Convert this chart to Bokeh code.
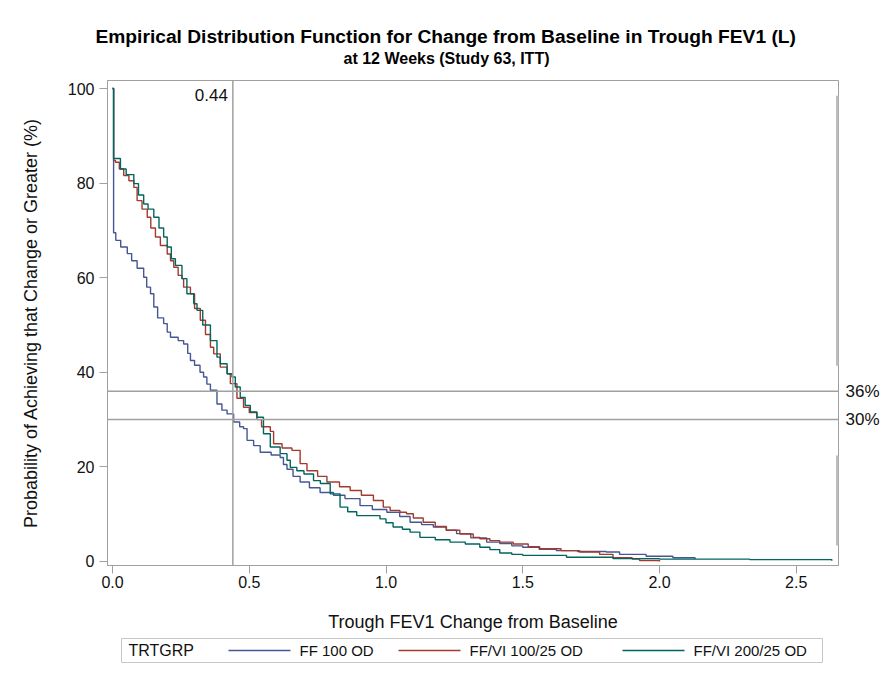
from bokeh.plotting import figure
from bokeh.models import Span, Label, Range1d, FixedTicker, LinearAxis, Title
from bokeh.layouts import column
from bokeh.core.properties import value
from bokeh.embed import file_html
from bokeh.resources import INLINE

title_main = "Empirical Distribution Function for Change from Baseline in Trough FEV1 (L)"
title_sub = "at 12 Weeks (Study 63, ITT)"
x_label = "Trough FEV1 Change from Baseline"
y_label = "Probability of Achieving that Change or Greater (%)"
legend_title = "TRTGRP"
groups = ["FF 100 OD", "FF/VI 100/25 OD", "FF/VI 200/25 OD"]
colors = ["#445694", "#A23A2E", "#01665E"]

x_ticks = [0.0, 0.5, 1.0, 1.5, 2.0, 2.5]
x_tick_labels = ["0.0", "0.5", "1.0", "1.5", "2.0", "2.5"]
y_ticks = [0, 20, 40, 60, 80, 100]

ref_x = 0.44
ref_x_label = "0.44"
ref_y = [36, 30]
ref_y_labels = ["36%", "30%"]

# FF 100 OD
ff100_x = [0.000, 0.004, 0.012, 0.030, 0.054, 0.070, 0.090, 0.114, 0.125, 0.139,
           0.151, 0.165, 0.187, 0.200, 0.212, 0.240, 0.260, 0.275, 0.285, 0.300,
           0.320, 0.333, 0.345, 0.358, 0.382, 0.400, 0.419, 0.443, 0.465, 0.479,
           0.492, 0.516, 0.540, 0.580, 0.613, 0.625, 0.638, 0.660, 0.686, 0.720,
           0.759, 0.808, 0.850, 0.905, 0.950, 1.003, 1.050, 1.088, 1.130, 1.173,
           1.220, 1.258, 1.310, 1.368, 1.416, 1.460, 1.500, 1.560, 1.623, 1.700,
           1.805, 1.854, 1.951, 2.049, 2.130]
ff100_y = [100.0, 69.5, 67.9, 66.5, 65.1, 63.6, 62.0, 60.1, 58.0, 56.6,
           53.8, 51.5, 50.3, 48.5, 47.4, 46.7, 46.0, 44.0, 42.5, 41.5,
           40.0, 39.0, 37.5, 36.2, 33.3, 32.0, 31.2, 29.5, 28.5, 28.1,
           25.6, 24.5, 23.1, 22.5, 22.0, 20.5, 19.5, 18.0, 16.8, 15.6,
           14.6, 14.0, 13.3, 11.8, 11.0, 10.4, 9.5, 8.3, 7.8, 7.3,
           6.6, 5.9, 5.0, 4.1, 3.8, 3.3, 3.0, 2.6, 2.3, 2.1,
           2.0, 1.5, 1.1, 0.8, 0.5]

# FF/VI 100/25 OD
ffvi100_x = [0.000, 0.004, 0.011, 0.025, 0.041, 0.060, 0.078, 0.090, 0.108, 0.127,
             0.140, 0.157, 0.175, 0.200, 0.212, 0.224, 0.240, 0.254, 0.260, 0.285,
             0.300, 0.321, 0.340, 0.358, 0.370, 0.394, 0.419, 0.431, 0.455, 0.479,
             0.500, 0.528, 0.545, 0.577, 0.589, 0.620, 0.656, 0.686, 0.711, 0.750,
             0.784, 0.830, 0.869, 0.910, 0.954, 0.990, 1.015, 1.051, 1.075, 1.100,
             1.136, 1.180, 1.221, 1.270, 1.319, 1.343, 1.380, 1.416, 1.465, 1.520,
             1.562, 1.640, 1.708, 1.781, 1.830, 1.900, 1.927, 2.000]
ffvi100_y = [100.0, 84.8, 84.4, 83.0, 81.6, 80.5, 79.1, 76.3, 74.5, 72.8,
             70.5, 68.6, 66.8, 65.0, 63.6, 62.2, 60.5, 59.8, 58.0, 56.6,
             53.5, 51.0, 48.0, 45.3, 43.9, 41.1, 39.7, 37.6, 34.5, 32.6,
             31.5, 30.0, 28.5, 27.5, 24.9, 24.0, 23.5, 20.7, 19.2, 18.0,
             16.8, 15.8, 15.0, 14.0, 12.9, 11.5, 10.8, 10.4, 10.1, 9.2,
             8.3, 7.4, 6.6, 5.8, 5.1, 4.8, 4.4, 4.1, 3.7, 3.1,
             2.7, 2.3, 2.0, 1.5, 0.8, 0.5, 0.2, 0.0]

# FF/VI 200/25 OD
ffvi200_x = [0.000, 0.004, 0.029, 0.050, 0.078, 0.095, 0.114, 0.130, 0.151, 0.170,
             0.187, 0.200, 0.215, 0.230, 0.254, 0.272, 0.297, 0.309, 0.330, 0.358,
             0.382, 0.394, 0.419, 0.437, 0.449, 0.467, 0.485, 0.504, 0.528, 0.552,
             0.577, 0.613, 0.638, 0.650, 0.674, 0.700, 0.735, 0.760, 0.796, 0.832,
             0.860, 0.893, 0.978, 1.000, 1.026, 1.060, 1.088, 1.124, 1.180, 1.234,
             1.290, 1.343, 1.380, 1.416, 1.460, 1.500, 1.660, 1.830, 2.000, 2.330,
             2.630]
ffvi200_y = [100.0, 85.2, 83.0, 81.8, 79.9, 77.5, 75.6, 74.5, 72.8, 70.5,
             68.6, 66.5, 64.0, 62.6, 59.8, 56.6, 54.5, 53.1, 50.0, 46.7,
             43.2, 41.8, 39.7, 39.0, 36.9, 34.7, 33.0, 31.6, 30.5, 27.0,
             24.2, 22.8, 21.4, 19.9, 19.2, 18.5, 17.1, 16.5, 14.3, 11.5,
             10.5, 9.7, 9.0, 8.2, 7.3, 6.8, 6.2, 5.1, 4.6, 4.1,
             3.7, 3.0, 2.5, 1.8, 1.5, 1.3, 0.9, 0.6, 0.5, 0.4,
             0.15]

series_x = [ff100_x, ffvi100_x, ffvi200_x]
series_y = [ff100_y, ffvi100_y, ffvi200_y]

FONT = "Liberation Sans"
GRAY = "#a0a0a0"
TXT = "#111111"

W = 891
BL, BR = 107, 53
H_TITLE = 80
FRAME_H = 485
BB = 70
H_MAIN = FRAME_H + BB
H_LEG = 674 - H_TITLE - H_MAIN
x0, x1 = -0.0183, 2.6545
y0, y1 = -0.85, 101.7


def blank_strip(height, **kw):
    f = figure(width=W, height=height, output_backend="svg", toolbar_location=None,
               x_axis_type=None, y_axis_type=None, title=None,
               min_border_left=BL, min_border_right=BR, **kw)
    f.outline_line_color = None
    f.xgrid.visible = False
    f.ygrid.visible = False
    f.background_fill_color = "white"
    f.border_fill_color = "white"
    return f


# ---- title strip: titles stacked in its lower panel, under a small empty frame
pt = blank_strip(H_TITLE, min_border_top=0, min_border_bottom=55,
                 x_range=Range1d(0, 1), y_range=Range1d(0, 1))
pt.add_layout(Title(text=title_main, align="left", offset=-12, vertical_align="top", standoff=0,
                    text_font=FONT, text_font_size="19.2px", text_font_style="bold",
                    text_color="black"), "below")
pt.add_layout(Title(text=title_sub, align="left", offset=236, vertical_align="top", standoff=3,
                    text_font=FONT, text_font_size="16px", text_font_style="bold",
                    text_color="black"), "below")

# ---- main plot
p = figure(width=W, height=H_MAIN, output_backend="svg", toolbar_location=None, title=None,
           x_range=Range1d(x0, x1), y_range=Range1d(y0, y1),
           min_border_left=BL, min_border_right=BR, min_border_top=0, min_border_bottom=BB)
p.background_fill_color = "white"
p.border_fill_color = "white"
p.outline_line_color = GRAY
p.outline_line_width = 1
p.xgrid.visible = False
p.ygrid.visible = False

xax = p.below[0]
yax = p.left[0]
for ax in (xax, yax):
    ax.axis_line_color = GRAY
    ax.major_tick_line_color = GRAY
    ax.minor_tick_line_color = None
    ax.major_tick_in = 0
    ax.major_tick_out = 8
    ax.major_label_text_font = FONT
    ax.major_label_text_font_size = "16px"
    ax.major_label_text_color = TXT
    ax.axis_label_text_font = FONT
    ax.axis_label_text_font_size = "18px"
    ax.axis_label_text_font_style = "normal"
    ax.axis_label_text_color = TXT

xax.ticker = FixedTicker(ticks=x_ticks)
xax.major_label_overrides = {t: l for t, l in zip(x_ticks, x_tick_labels)}
xax.axis_label = x_label
xax.major_label_standoff = 2
xax.axis_label_standoff = 21

yax.ticker = FixedTicker(ticks=y_ticks)
yax.axis_label = y_label
yax.major_label_standoff = 5
yax.axis_label_standoff = 24

# right axis carrying the reference-line labels
rax = LinearAxis(ticker=FixedTicker(ticks=ref_y),
                 major_label_overrides={v: l for v, l in zip(ref_y, ref_y_labels)})
rax.axis_line_color = None
rax.major_tick_line_color = None
rax.minor_tick_line_color = None
rax.major_tick_in = 0
rax.major_tick_out = 0
rax.major_label_standoff = 7
rax.major_label_text_font = FONT
rax.major_label_text_font_size = "17px"
rax.major_label_text_color = TXT
p.add_layout(rax, "right")

# reference lines
p.add_layout(Span(location=ref_x, dimension="height", line_color=GRAY, line_width=1.5))
for yv in ref_y:
    p.add_layout(Span(location=yv, dimension="width", line_color=GRAY, line_width=1.5))

# curves
for xs, ys, c in zip(series_x, series_y, colors):
    p.step(xs, ys, mode="after", line_color=c, line_width=1.4)

# gray bars along the right edge (as in the reference)
p.segment(x0=[x1, x1], y0=[98.5, 22.4], x1=[x1, x1], y1=[41.4, 3.4],
          line_color="#bdbdbd", line_width=5)

# label of the vertical reference line
p.add_layout(Label(x=ref_x, y=y1, x_offset=-5, y_offset=-8, text=ref_x_label,
                   text_align="right", text_baseline="top", text_font=FONT,
                   text_font_size="17px", text_color=TXT))

# ---- legend strip (its frame is aligned with the main frame: data x == page px)
pl = blank_strip(H_LEG, min_border_top=0, min_border_bottom=0,
                 x_range=Range1d(BL, W - BR), y_range=Range1d(H_LEG, 0))
leg_top = 638 - H_TITLE - H_MAIN
box_l, box_r, box_t, box_b = 121, 822, leg_top, leg_top + 24
ymid = (box_t + box_b) / 2
pl.quad(left=[box_l], right=[box_r], top=[box_t], bottom=[box_b],
        fill_color="white", line_color="#c8c8c8", line_width=1)
pl.text(x=[box_l + 7], y=[ymid], text=[legend_title], text_align="left", text_baseline="middle",
        text_font=value(FONT), text_font_size="16px", text_color=TXT)
item_x = [228, 398, 622]
glyph_w, standoff = 62, 9
pl.segment(x0=item_x, y0=[ymid] * 3, x1=[v + glyph_w for v in item_x], y1=[ymid] * 3,
           line_color=colors, line_width=1.4)
pl.text(x=[v + glyph_w + standoff for v in item_x], y=[ymid] * 3, text=groups,
        text_align="left", text_baseline="middle", text_font=value(FONT),
        text_font_size="15px", text_color=TXT)

layout = column(pt, p, pl, spacing=0)
open("out.html", "w").write(file_html(layout, INLINE))
